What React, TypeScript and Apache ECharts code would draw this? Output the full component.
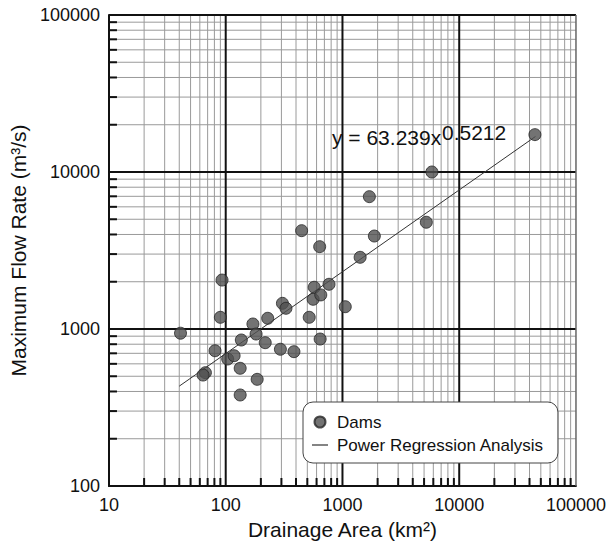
import React, { useEffect, useRef } from "react";
import * as echarts from "echarts";

// Dam data: drainage area (km²) and maximum flow rate (m³/s)
const damArea = [41, 93, 90, 81, 67, 64, 104, 118, 136, 133, 133, 171, 182, 186, 218, 229, 294, 384, 306, 328, 447, 638, 519, 573, 561, 652, 767, 644, 1057, 1417, 1875, 1700, 5225, 5835, 44500];
const damFlow = [940, 2050, 1187, 727, 527, 509, 644, 676, 851, 562, 380, 1076, 929, 478, 818, 1170, 743, 717, 1457, 1355, 4230, 3345, 1187, 1845, 1546, 1648, 1927, 863, 1387, 2862, 3910, 6965, 4785, 10000, 17300];

// Power regression y = a * x^b (from the chart's equation)
const fitA = 63.239;
const fitB = 0.5212;
const fitX = [40, 45000];

const X_MIN = 10;
const X_MAX = 100000;
const Y_MIN = 100;
const Y_MAX = 100000;
const xDecades = [10, 100, 1000, 10000];
const yDecades = [100, 1000, 10000];
const multipliers = [2, 3, 4, 5, 6, 7, 8, 9];
const xMajor = [100, 1000, 10000];
const yMajor = [1000, 10000];

const xMinor: number[] = [];
xDecades.forEach((d) => multipliers.forEach((m) => xMinor.push(d * m)));
const yMinor: number[] = [];
yDecades.forEach((d) => multipliers.forEach((m) => yMinor.push(d * m)));

const FONT = "Liberation Sans, Arial, Helvetica, sans-serif";

function vLines(values: number[], color: string, width: number, tick: boolean, z: number) {
  return {
    type: "custom",
    silent: true,
    z,
    data: values.map((v) => [v, Y_MIN]),
    renderItem: (_p: any, api: any) => {
      const x = api.value(0);
      const a = api.coord([x, Y_MIN]);
      const b = api.coord([x, Y_MAX]);
      const children: any[] = [
        { type: "line", shape: { x1: a[0], y1: a[1], x2: b[0], y2: b[1] }, style: { stroke: color, lineWidth: width } },
      ];
      if (tick) {
        children.push({ type: "line", shape: { x1: a[0], y1: a[1], x2: a[0], y2: a[1] - 8 }, style: { stroke: "#111", lineWidth: 2 } });
      }
      return { type: "group", children };
    },
  };
}

function hLines(values: number[], color: string, width: number, tick: boolean, z: number) {
  return {
    type: "custom",
    silent: true,
    z,
    data: values.map((v) => [X_MIN, v]),
    renderItem: (_p: any, api: any) => {
      const y = api.value(1);
      const a = api.coord([X_MIN, y]);
      const b = api.coord([X_MAX, y]);
      const children: any[] = [
        { type: "line", shape: { x1: a[0], y1: a[1], x2: b[0], y2: b[1] }, style: { stroke: color, lineWidth: width } },
      ];
      if (tick) {
        children.push({ type: "line", shape: { x1: a[0], y1: a[1], x2: a[0] + 8, y2: a[1] }, style: { stroke: "#111", lineWidth: 2 } });
      }
      return { type: "group", children };
    },
  };
}

export default function App() {
  const ref = useRef<HTMLDivElement>(null);
  useEffect(() => {
    if (!ref.current) return;
    const chart = echarts.init(ref.current, undefined, { renderer: "svg" });
    const labelFmt = (v: number) => String(Math.round(v));
    chart.setOption({
      animation: false,
      backgroundColor: "#ffffff",
      textStyle: { fontFamily: FONT },
      grid: { left: 106, right: 33, top: 15, bottom: 59 },
      xAxis: {
        type: "log",
        logBase: 10,
        min: X_MIN,
        max: X_MAX,
        name: "Drainage Area (km²)",
        nameLocation: "middle",
        nameGap: 31,
        nameTextStyle: { fontSize: 21, color: "#111", fontFamily: FONT },
        axisLine: { show: true, lineStyle: { color: "#111", width: 2 } },
        axisTick: { show: false },
        splitLine: { show: false },
        axisLabel: { fontSize: 18, color: "#111", margin: 10, formatter: labelFmt, fontFamily: FONT },
      },
      yAxis: {
        type: "log",
        logBase: 10,
        min: Y_MIN,
        max: Y_MAX,
        name: "Maximum Flow Rate (m³/s)",
        nameLocation: "middle",
        nameGap: 78,
        nameTextStyle: { fontSize: 21, color: "#111", fontFamily: FONT },
        axisLine: { show: true, lineStyle: { color: "#111", width: 2 } },
        axisTick: { show: false },
        splitLine: { show: false },
        axisLabel: { fontSize: 18, color: "#111", margin: 9, formatter: labelFmt, fontFamily: FONT },
      },
      legend: {
        orient: "vertical",
        left: 303,
        top: 402,
        padding: [10, 14, 8, 9],
        itemGap: 3,
        itemWidth: 16,
        itemHeight: 11,
        symbolKeepAspect: true,
        backgroundColor: "#ffffff",
        borderColor: "#444",
        borderWidth: 1,
        borderRadius: 10,
        textStyle: { fontSize: 17, color: "#111", lineHeight: 20, fontFamily: FONT, padding: [0, 0, 0, 4] },
        data: [
          { name: "Dams", icon: "circle" },
          { name: "Power Regression Analysis", icon: "path://M0,0 L16,0 L16,1.2 L0,1.2 Z", itemStyle: { color: "#333" } },
        ],
      },
      graphic: [
        { type: "text", x: 332, y: 137, z: 10, style: { text: "y = 63.239x", fontSize: 21, fontFamily: FONT, fill: "#111", verticalAlign: "middle" } },
        { type: "text", x: 442, y: 132, z: 10, style: { text: "0.5212", fontSize: 21, fontFamily: FONT, fill: "#111", verticalAlign: "middle" } },
      ],
      series: [
        vLines(xMinor, "#9a9a9a", 1, true, 0),
        hLines(yMinor, "#9a9a9a", 1, true, 0),
        vLines(xMajor, "#111", 2, false, 1),
        hLines(yMajor, "#111", 2, false, 1),
        hLines([Y_MAX], "#111", 2, false, 1),
        vLines([X_MAX], "#666", 1.5, false, 1),
        {
          name: "Power Regression Analysis",
          type: "line",
          z: 3,
          showSymbol: false,
          symbol: "none",
          lineStyle: { color: "#333", width: 1 },
          itemStyle: { color: "#333" },
          data: fitX.map((x) => [x, fitA * Math.pow(x, fitB)]),
        },
        {
          name: "Dams",
          type: "scatter",
          z: 4,
          symbol: "circle",
          symbolSize: 12,
          itemStyle: { color: "#505050", borderColor: "#262626", borderWidth: 1 },
          data: damArea.map((x, i) => [x, damFlow[i]]),
        },
      ],
    });
    return () => chart.dispose();
  }, []);
  return <div ref={ref} style={{ position: "fixed", left: 0, top: 0, width: 609, height: 545 }} />;
}
